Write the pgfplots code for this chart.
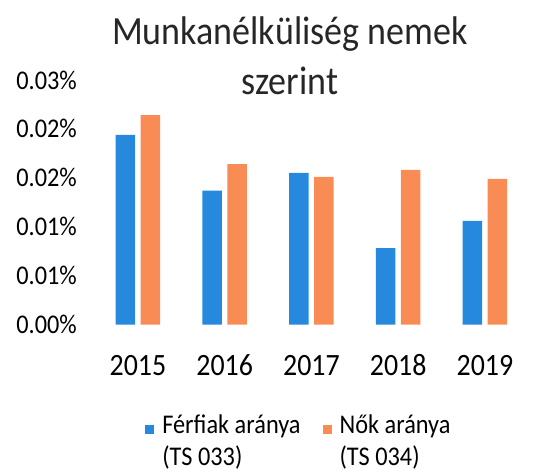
\documentclass[border=0pt]{standalone}
\usepackage{fontspec}
\setmainfont{Carlito}[FakeStretch=0.9]
\usepackage{pgfplots}
\pgfplotsset{compat=1.18}
\definecolor{cblue}{RGB}{38,137,222}
\definecolor{corange}{RGB}{248,140,84}
\begin{document}
\begin{tikzpicture}
\useasboundingbox (0bp,0bp) rectangle (550bp,476bp);
\begin{axis}[
  at={(94.6bp,151.5bp)}, anchor=south west,
  scale only axis, width=433.75bp, height=244.5bp,
  xmin=-0.5, xmax=4.5, ymin=0, ymax=0.025,
  scaled y ticks=false,
  ybar=5.5bp, bar width=19.5bp,
  axis line style={draw=none}, major tick length=0pt,
  xtick={0,1,2,3,4}, xticklabels={2015,2016,2017,2018,2019},
  ytick={0,0.005,0.01,0.015,0.02,0.025},
  yticklabels={0.00\%,0.01\%,0.01\%,0.02\%,0.02\%,0.03\%},
  x tick label style={font=\fontsize{31bp}{36bp}\selectfont, anchor=base, yshift=-50.5bp, inner sep=0pt},
  y tick label style={font=\fontsize{27bp}{32bp}\selectfont, anchor=east, inner sep=0pt, xshift=-17.6bp},
  title={Munkanélküliség nemek\\szerint},
  title style={at={(0.45,1.076)}, anchor=center, align=center, font=\fontsize{40bp}{50bp}\selectfont, text=black!85},
  legend style={at={(0.471,-0.476)}, anchor=center, draw=none, fill=none,
    legend columns=2, font=\fontsize{27bp}{32bp}\selectfont, cells={align=left},
    /tikz/every odd column/.append style={column sep=6bp},
    /tikz/every even column/.append style={column sep=20bp}},
  legend image code/.code={\fill[#1] (0bp,6.5bp) rectangle (9bp,15.5bp);},
]
\addplot[fill=cblue, draw=none] coordinates {(0,0.0194) (1,0.0137) (2,0.0155) (3,0.0078) (4,0.0106)};
\addlegendentry{Férfiak aránya\\(TS 033)}
\addplot[fill=corange, draw=none] coordinates {(0,0.0214) (1,0.0164) (2,0.0151) (3,0.0158) (4,0.0149)};
\addlegendentry{Nők aránya\\(TS 034)}
\end{axis}
\end{tikzpicture}
\end{document}
